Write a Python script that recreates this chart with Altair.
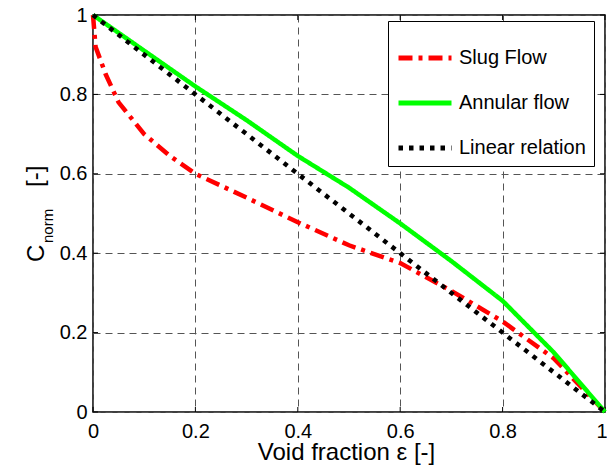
import altair as alt
import pandas as pd

# ---- data ----
slug_x = [0, 0.005, 0.025, 0.05, 0.1, 0.15, 0.2, 0.3, 0.4, 0.5, 0.6, 0.7, 0.8, 0.9, 1.0]
slug_y = [1.0, 0.92, 0.85, 0.78, 0.70, 0.645, 0.60, 0.54, 0.478, 0.42, 0.375, 0.305, 0.228, 0.135, 0.0]
annular_x = [0, 0.1, 0.2, 0.3, 0.4, 0.5, 0.6, 0.7, 0.8, 0.9, 1.0]
annular_y = [1.0, 0.91, 0.82, 0.735, 0.645, 0.565, 0.475, 0.38, 0.28, 0.15, 0.0]
linear_x = [0, 1]
linear_y = [1, 0]

series_names = ["Slug Flow", "Annular flow", "Linear relation"]
series_colors = ["#ff0000", "#00ff00", "#000000"]
series_dashes = [[14, 6, 4, 6], [1, 0], [4.5, 6]]

x_ticks = [0, 0.2, 0.4, 0.6, 0.8, 1]
y_ticks = [0, 0.2, 0.4, 0.6, 0.8, 1]

x_title = "Void fraction ε [-]"
y_title_main = "C"
y_title_sub = "norm"
y_title_unit = "[-]"

FONT = "Liberation Sans, Arial, Helvetica, sans-serif"
W, H = 512, 397

rows = []
for name, xs, ys in [(series_names[0], slug_x, slug_y),
                     (series_names[1], annular_x, annular_y),
                     (series_names[2], linear_x, linear_y)]:
    for i, (a, b) in enumerate(zip(xs, ys)):
        rows.append({"series": name, "eps": a, "c": b, "idx": i})
df = pd.DataFrame(rows)

xscale = alt.Scale(domain=[0, 1], nice=False, zero=False)
yscale = alt.Scale(domain=[0, 1], nice=False, zero=False)

legend = alt.Legend(
    orient="none", legendX=295, legendY=6,
    symbolType="stroke", symbolSize=2809, symbolStrokeWidth=5,
    labelFontSize=20, labelFont=FONT, labelColor="black", labelOffset=5,
    padding=8, rowPadding=6, strokeColor="black", fillColor="white",
)

x_axis = alt.Axis(
    values=x_ticks, format="g", title=None, labelPadding=9,
    labelAlign={"condition": {"test": "datum.value == 1", "value": "right"}, "value": "center"},
    labelOffset={"condition": {"test": "datum.value == 1", "value": 2}, "value": 0},
)

lines = alt.Chart(df).mark_line(strokeWidth=4.5, strokeCap="butt").encode(
    x=alt.X("eps:Q", scale=xscale, axis=x_axis),
    y=alt.Y("c:Q", scale=yscale,
            axis=alt.Axis(values=y_ticks, format="g", title=None, labelPadding=6)),
    color=alt.Color("series:N", title=None,
                    scale=alt.Scale(domain=series_names, range=series_colors),
                    legend=legend),
    strokeDash=alt.StrokeDash("series:N", title=None,
                              scale=alt.Scale(domain=series_names, range=series_dashes),
                              legend=legend),
    order=alt.Order("idx:Q"),
)

xt = pd.DataFrame({"v": x_ticks})
yt = pd.DataFrame({"v": y_ticks})
tick_x_bottom = alt.Chart(xt).mark_rule(color="black", strokeWidth=1).encode(
    x=alt.X("v:Q", scale=xscale), y=alt.value(H), y2=alt.value(H - 5))
tick_x_top = alt.Chart(xt).mark_rule(color="black", strokeWidth=1).encode(
    x=alt.X("v:Q", scale=xscale), y=alt.value(0), y2=alt.value(5))
tick_y_left = alt.Chart(yt).mark_rule(color="black", strokeWidth=1).encode(
    y=alt.Y("v:Q", scale=yscale), x=alt.value(0), x2=alt.value(5))
tick_y_right = alt.Chart(yt).mark_rule(color="black", strokeWidth=1).encode(
    y=alt.Y("v:Q", scale=yscale), x=alt.value(W), x2=alt.value(W - 5))

one = alt.Data(values=[{}])
t_x = alt.Chart(one).mark_text(text=x_title, fontSize=24, font=FONT, align="center",
                               baseline="alphabetic", color="black").encode(
    x=alt.value(253.5), y=alt.value(445))
t_c = alt.Chart(one).mark_text(text=y_title_main, fontSize=24, font=FONT, angle=270,
                               align="left", baseline="alphabetic", color="black").encode(
    x=alt.value(-49), y=alt.value(247))
t_n = alt.Chart(one).mark_text(text=y_title_sub, fontSize=15, font=FONT, angle=270,
                               align="left", baseline="alphabetic", color="black").encode(
    x=alt.value(-40), y=alt.value(228))
t_u = alt.Chart(one).mark_text(text=y_title_unit, fontSize=24, font=FONT, angle=270,
                               align="left", baseline="alphabetic", color="black").encode(
    x=alt.value(-50), y=alt.value(172))

chart = alt.layer(
    tick_x_bottom, tick_x_top, tick_y_left, tick_y_right,
    lines, t_x, t_c, t_n, t_u
).properties(
    width=W, height=H,
    autosize=alt.AutoSizeParams(type="none"),
    padding={"left": 85, "top": 7, "right": 2, "bottom": 54},
).configure_view(
    stroke="black", strokeWidth=1.5
).configure_axis(
    domain=False, ticks=False, grid=True, gridColor="#555555", gridDash=[7, 5],
    gridWidth=1, gridOpacity=1, labelFont=FONT, labelFontSize=20, labelColor="black",
    labelFlush=False, labelOverlap=False
)

chart.save("out.html", embed_options={"renderer": "svg", "actions": False})
